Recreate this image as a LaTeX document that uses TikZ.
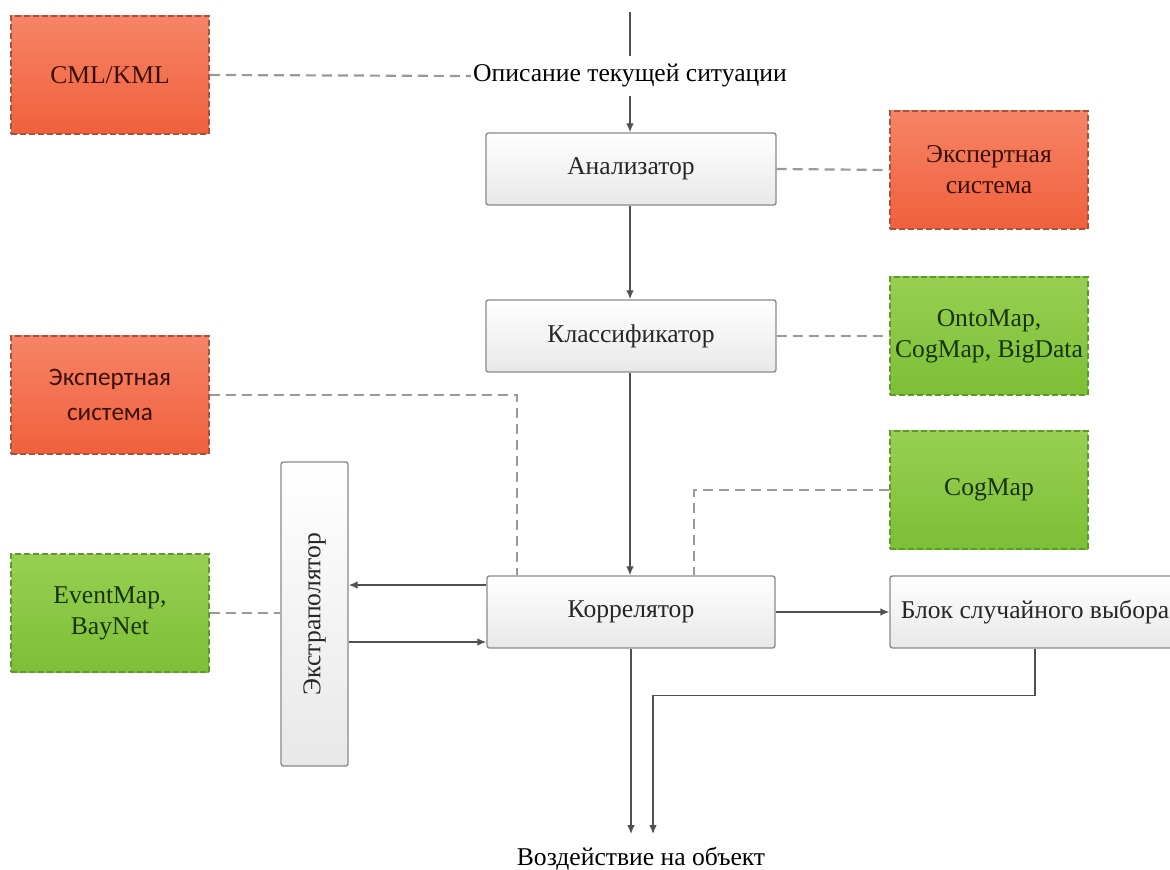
\documentclass[tikz,border=0pt]{standalone}
\usepackage{fontspec}
\setmainfont{Liberation Serif}
\newfontfamily\sansf{Carlito}
\usetikzlibrary{arrows.meta,calc}

\definecolor{redtop}{HTML}{F58466}
\definecolor{redbot}{HTML}{F1603C}
\definecolor{redline}{HTML}{A8523E}
\definecolor{redtext}{HTML}{3A1006}
\definecolor{grntop}{HTML}{98CF52}
\definecolor{grnbot}{HTML}{7DBF36}
\definecolor{grnline}{HTML}{5C9A2C}
\definecolor{grntext}{HTML}{17330A}
\definecolor{boxline}{HTML}{8A8A8A}
\definecolor{wire}{HTML}{505050}
\definecolor{dashwire}{HTML}{9A9A9A}

\tikzset{
  x=0.5pt, y=-0.5pt,
  every node/.style={font=\fontsize{12.8}{15.5}\selectfont, align=center, inner sep=0pt},
  block/.style={draw=boxline, line width=0.7pt, rounded corners=1.2pt,
    top color=white, bottom color=black!9, text=black!85},
  redbox/.style={draw=redline, dashed, dash pattern=on 3pt off 1.5pt, line width=0.8pt,
    top color=redtop, bottom color=redbot, text=redtext,
    minimum width=99pt, minimum height=59pt},
  grnbox/.style={draw=grnline, dashed, dash pattern=on 3pt off 1.5pt, line width=0.8pt,
    top color=grntop, bottom color=grnbot, text=grntext,
    minimum width=99pt, minimum height=59pt},
  arr/.style={draw=wire, line width=0.7pt, -{Latex[length=4.5pt,width=3.8pt]}},
  wireline/.style={draw=wire, line width=0.7pt},
  link/.style={draw=dashwire, line width=1.1pt, dash pattern=on 5pt off 3pt}
}

\begin{document}
\begin{tikzpicture}
\clip (0,0) rectangle (1170,870);
\useasboundingbox (0,0) rectangle (1170,870);
\fill[white] (0,0) rectangle (1170,870);

% main processing chain
\node[block, minimum width=145pt, minimum height=36pt] (anal) at (631,169) {Анализатор};
\node[block, minimum width=145pt, minimum height=36pt] (class) at (631,336) {Классификатор};
\node[block, minimum width=144pt, minimum height=36pt] (korr) at (631,612) {Коррелятор};
\node[block, minimum width=145pt, minimum height=36pt] (blk) at (1035,612) {Блок случайного выбора};
\node[block, minimum width=33.5pt, minimum height=152pt] (extr) at (314.5,614)
  {\rotatebox{90}{Экстраполятор}};

% knowledge sources
\node[redbox] (cml) at (110,75) {CML/KML};
\node[redbox] (expR) at (989,170) {Экспертная\\система};
\node[grnbox] (onto) at (989,336) {OntoMap,\\CogMap, BigData};
\node[redbox, font=\sansf\fontsize{12.6}{17.5}\selectfont] (expL) at (110,395) {Экспертная\\система};
\node[grnbox] (cog) at (989,490) {CogMap};
\node[grnbox] (event) at (110,613) {EventMap,\\BayNet};

% input and output labels
\node[inner xsep=1pt, inner ysep=4pt] (desc) at (630,76) {Описание текущей ситуации};
\node (out) at (641,859) {Воздействие на объект};

\coordinate (topin) at (630,12);
\coordinate (outL) at (631,834);
\coordinate (outR) at (653,834);
\coordinate (vexp) at (517,0);
\coordinate (vcog) at (694,0);
\coordinate (kback) at ($(korr.west)+(0,-27)$);
\coordinate (kfwd) at ($(extr.east)+(0,28)$);

% solid flow
\draw[wireline] (topin) -- (desc.north -| topin);
\draw[arr] (desc.south -| topin) -- (anal.north -| topin);
\draw[arr] (anal.south -| topin) -- (class.north -| topin);
\draw[arr] (class.south -| topin) -- (korr.north -| topin);
\draw[arr] (kback) -- (kback -| extr.east);
\draw[arr] (kfwd) -- (kfwd -| korr.west);
\draw[arr] (korr.east) -- (blk.west);
\draw[arr] (korr.south) -- (outL);
\draw[arr] (blk.south) -- ++(0,47) -| (outR);

% dashed links to knowledge sources
\draw[link] (cml.east) -- (desc.west);
\draw[link] (anal.east) -- (expR.west);
\draw[link] (class.east) -- (onto.west);
\draw[link] (expL.east) -| (vexp |- korr.north);
\draw[link] (cog.west) -| (vcog |- korr.north);
\draw[link] (event.east) -- (event.east -| extr.west);
\end{tikzpicture}
\end{document}
